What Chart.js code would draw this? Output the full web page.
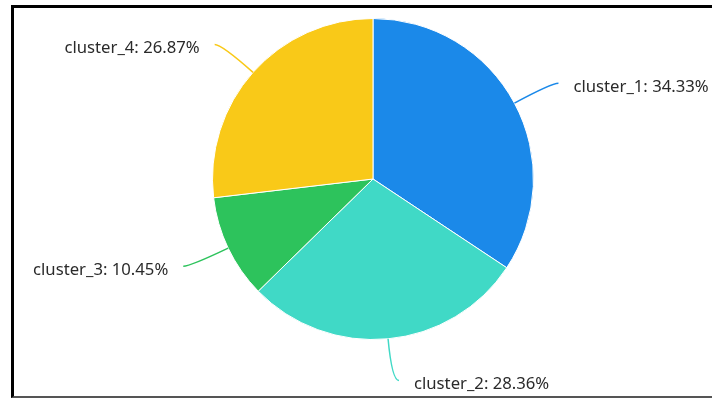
<!DOCTYPE html>
<html>
<head>
<meta charset="utf-8">
<script src="https://cdn.jsdelivr.net/npm/chart.js@4.4.0/dist/chart.umd.min.js"></script>
<style>
    html, body { margin: 0; padding: 0; background: #fff; }
    #wrap { position: relative; width: 712px; height: 398px; overflow: hidden; }
    #frame {
        position: absolute; left: 11px; top: 5px; width: 720px; height: 388px;
        border-top: 3px solid #000; border-left: 3px solid #000; border-bottom: 2px solid #555;
        pointer-events: none;
    }
</style>
</head>
<body>
<div id="wrap">
    <canvas id="pieChart" width="712" height="398"></canvas>
    <div id="frame"></div>
</div>
<script>
// dados do gráfico
const categories = ['cluster_1', 'cluster_2', 'cluster_3', 'cluster_4'];
const shares = [34.33, 28.36, 10.45, 26.87];
const colors = ['#1b89e9', '#40d9c6', '#2dc35c', '#f9c918'];

// rótulos com linha-guia curva para cada fatia
const leaderLabels = {
    id: 'leaderLabels',
    afterDatasetsDraw(chart) {
        const ctx = chart.ctx;
        const meta = chart.getDatasetMeta(0);
        const len1 = 42, len2 = 7, gap = 15;
        ctx.save();
        ctx.font = '16.7px "Noto Sans", sans-serif';
        ctx.textBaseline = 'middle';
        meta.data.forEach((arc, i) => {
            const p = arc.getProps(['x', 'y', 'startAngle', 'endAngle', 'outerRadius'], true);
            const mid = (p.startAngle + p.endAngle) / 2;
            const cos = Math.cos(mid), sin = Math.sin(mid);
            const x0 = p.x + p.outerRadius * cos, y0 = p.y + p.outerRadius * sin;
            const x1 = p.x + (p.outerRadius + len1) * cos, y1 = p.y + (p.outerRadius + len1) * sin;
            const side = cos >= 0 ? 1 : -1;
            const x2 = x1 + side * len2, y2 = y1;

            ctx.strokeStyle = colors[i];
            ctx.lineWidth = 1.5;
            ctx.beginPath();
            ctx.moveTo(x0, y0);
            ctx.quadraticCurveTo(x1, y1, x2, y2);
            ctx.stroke();

            ctx.fillStyle = '#2b2b2b';
            ctx.textAlign = side > 0 ? 'left' : 'right';
            ctx.fillText(categories[i] + ': ' + shares[i].toFixed(2) + '%', x2 + side * gap, y2 + 4);
        });
        ctx.restore();
    }
};

new Chart(document.getElementById('pieChart').getContext('2d'), {
    type: 'pie',
    data: {
        labels: categories,
        datasets: [{
            data: shares,
            backgroundColor: colors,
            borderColor: '#fff',
            borderWidth: 1
        }]
    },
    options: {
        responsive: false,
        animation: false,
        layout: { padding: { top: 18, bottom: 58, left: 200, right: 166 } },
        plugins: {
            legend: { display: false },
            tooltip: { enabled: false }
        }
    },
    plugins: [leaderLabels]
});
</script>
</body>
</html>
